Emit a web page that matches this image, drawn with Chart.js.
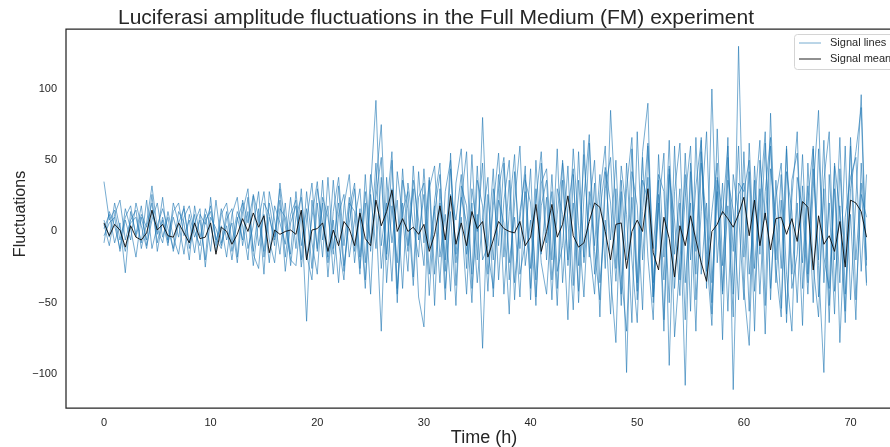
<!DOCTYPE html>
<html>
<head>
<meta charset="utf-8">
<script src="https://cdn.jsdelivr.net/npm/chart.js@4.4.1/dist/chart.umd.min.js"></script>
<style>
html, body { margin: 0; padding: 0; background: #fff; }
canvas { display: block; }
</style>
</head>
<body>
<canvas id="myChart" width="890" height="447"></canvas>
<script>
// one sample every half hour, 0 .. 71.5 h
const stepHours = 0.5;

const lineA = [
    35, 8, 15, -6, 10, 18, -4, 12, 3, 20, -8, 10,
    -6, 14, 20, -3, 8, -15, 12, 5, 18, -5, -12, 9,
    16, -18, 22, 6, 25, -10, 12, -22, 18, 6, -9, 24,
    -12, 30, -20, 10, 35, -6, 18, -30, 12, 26, -18, 8,
    30, -22, 40, 12, -70, 38, -8, 22, -40, 34, 4, -18,
    44, -12, 18, -36, 28, 50, -22, 10, -44, 30, 0, 48,
    -30, 18, 55, -18, 36, -48, 14, 40, -26, 22, 56, -8,
    28, -40, 50, 8, -55, 36, -18, 62, -30, 14, 45, 20,
    -35, 28, -99, 42, 18, -55, 60, -12, 36, -62, 40, 8,
    -45, 55, -20, 32, 64, -28, 14, 48, -42, 18, -60, 130,
    -18, 42, -70, 50, 8, 60, -36, 22, -58, 36, 55, -22,
    32, -50, 58, -18, -40, 46, -78, 10, 38, 52, -28, 40
];
const lineB = [
    5, -10, 12, 22, -6, 8, 15, -12, 6, 32, 2, -8,
    14, -4, -16, 10, 18, 0, -10, 16, 4, -14, 12, 20,
    -8, 14, 4, -20, 26, 10, -14, 20, -4, 30, -18, 12,
    22, -25, 8, 34, -14, 20, -32, 14, 38, -10, 24, -22,
    16, -34, 30, 92, -10, 20, -35, 42, 10, -28, 46, -6,
    26, -45, 14, 40, -20, 55, -38, 24, 6, -50, 36, 18,
    -42, 30, -10, 48, -34, 20, 60, -24, 8, -52, 34, 44,
    -20, 58, -36, 16, 44, -50, 24, 68, -14, -48, 30, 52,
    -26, 46, 12, -64, 70, -20, 38, -46, 16, 55, -94, 28,
    62, -36, 20, -70, 48, 8, -58, 72, -24, 36, 15, -48,
    56, -30, 18, 64, -52, 83, -20, 40, -64, 24, 70, -40,
    22, 60, -46, 30, -64, 48, 14, -56, 66, -20, 34, -38
];
const lineC = [
    2, 12, -8, 6, -29, 14, -2, 18, -10, 8, 20, -4,
    10, -14, 6, 16, -8, 12, -20, 8, 14, -6, 4, -18,
    12, 24, -10, 14, -24, 8, 28, -6, -22, 16, 10, -16,
    28, -10, 16, -26, 30, 6, -18, 36, -8, -34, 20, 14,
    -30, 40, -14, 24, 52, -36, 18, -22, 44, -10, 30, -46,
    -67, 30, 46, -18, 12, -42, 34, 58, -16, 20, -36, 10,
    38, -46, 22, 6, -58, 42, -12, 28, -40, 50, -16, 24,
    -48, 30, 12, -62, 40, -24, 54, -10, -44, 26, 60, -30,
    -78, 36, -20, 58, -48, 14, 62, -36, 20, -70, 44, -16,
    30, -62, 48, -14, 66, -40, 100, -22, 34, -56, 40, 12,
    -48, 62, -26, 30, -72, 44, 10, -54, 58, -30, 20, -66,
    48, -24, -60, 36, 70, -42, 18, -64, 30, 56, 87, -36
];
const lineD = [
    -3, 6, 10, -14, 8, -6, 20, 4, -12, 14, -2, 24,
    -8, 10, -4, 18, -12, 6, 16, -25, 10, 2, -10, 14,
    -14, 8, 20, -12, 4, 28, -18, 10, -6, 22, -28, 6,
    18, -20, 28, -8, -30, 24, 10, -16, 32, -24, 6, 30,
    -18, 28, -8, 48, -26, 14, 56, -40, 20, -14, 36, 8,
    -24, 38, -30, 20, -48, 26, 8, 40, -26, 54, -20, 80,
    -14, -40, 30, 52, -22, 10, -46, 36, 20, -34, 48, -20,
    40, -28, -10, 46, -38, 56, -22, 18, 50, -36, 8, -58,
    30, -52, 48, -20, -64, 36, 22, -46, 54, -18, 64, -40,
    20, -108, 42, -30, 56, -16, -66, 38, 12, 60, -44, 26,
    34, -56, 46, -16, 62, -40, 24, 48, -30, -70, 38, 16,
    -44, 30, 85, -36, 20, -58, 44, -22, 60, -48, 26, 10
];
const lineE = [
    -8, 14, 4, -12, 16, 2, -18, 10, -6, 26, -14, 8,
    -10, 20, 6, -16, 12, -4, 8, -20, 24, -10, 16, -6,
    6, -22, 14, 30, -16, -26, 20, 12, -10, 34, 4, -20,
    -24, 14, -63, 22, -12, 36, -22, 8, -36, 18, 40, -14,
    12, -40, 26, -12, 38, -20, 50, -44, 14, 28, -32, 42,
    -8, 36, -52, 30, -28, 44, -16, 22, 56, -40, 12, -82,
    26, -20, 40, -44, 14, 54, -30, -8, 44, -46, 18, 36,
    -34, 12, 48, -24, 20, -42, 64, -18, 34, -60, 42, -6,
    50, -30, -70, 24, -42, 56, 90, -50, 26, -34, 46, -74,
    -22, 40, -56, 66, -30, 20, -50, 36, -76, 52, -14, 60,
    -40, -80, 36, -44, 28, 66, -26, -60, 42, 14, -50, 32,
    -36, 58, -24, -99, 40, -20, 66, -44, 12, -62, 48, -20
];
const lineF = [
    8, -4, 20, 2, -14, 6, 10, -8, 22, -12, 4, 16,
    2, -12, 14, 6, -20, 18, -4, 12, -14, 22, -8, 4,
    -20, 10, -6, 24, -14, 16, -30, 28, 8, -16, 20, -24,
    10, 24, -16, -34, 20, -18, 38, -12, 20, -28, 16, 34,
    -26, 20, -44, 34, 75, -16, 30, -50, 36, 16, -38, 24,
    34, -30, 22, 48, -40, 14, -52, 32, 18, -30, 46, -20,
    -10, 44, -34, 22, 50, -36, 8, 46, -48, 30, -22, -44,
    16, -52, 36, -20, 58, 4, -46, 28, -10, 40, -26, 85,
    12, -44, 30, 66, -36, 52, -18, -62, 40, 28, -50, 60,
    -34, 24, 60, -48, 14, 70, -36, 28, -44, 66, -111, 34,
    28, 50, -42, 20, 70, -48, 36, -26, 60, -40, -16, 54,
    -30, 44, -20, 64, -52, 30, -36, 60, -48, 22, 96, -24
];
const signalMean = [
    6, -3, 5, 1, -11, 4, -4, -6, -1, 15, 1, 5,
    -3, -4, 6, -1, -8, 6, -5, -4, 6, -16, 3, 0,
    -9, -2, 9, 0, 13, 3, 11, -15, 1, -2, 0, 1,
    -2, 15, -20, 1, 2, 6, -14, 1, -10, 7, 2, -10,
    13, -5, -10, 22, 4, 14, 29, 0, 9, 0, 3, -2,
    5, -14, -2, 18, -6, 25, -9, 6, -10, 14, 2, 7,
    -18, -6, 7, 2, 0, -1, 7, -10, -4, 19, -14, 0,
    19, -4, 5, 25, -3, -11, -8, 7, 20, 17, 0, -20,
    5, 6, -26, 0, 8, 0, 30, -15, -27, 10, -5, -32,
    4, -10, 11, -6, -22, -35, 0, 5, 14, 9, 3, 12,
    24, -3, 22, -10, 13, -13, 9, 10, -2, 9, -7, 21,
    17, -27, 11, -9, -3, -14, 7, -25, 22, 20, 14, -4
];

const xTicks = [0, 10, 20, 30, 40, 50, 60, 70];
const yTicks = [-100, -50, 0, 50, 100];

const signalLines = [lineA, lineB, lineC, lineD, lineE, lineF];

const FONT = "'Liberation Sans', Arial, sans-serif";
const INK = '#262626';
const LINE_BLUE = 'rgba(31, 119, 180, 0.68)';
const MEAN_BLACK = 'rgba(10, 10, 10, 0.9)';

function toPoints(values) {
    return values.map(function (v, i) {
        return { x: i * stepHours, y: v };
    });
}

var datasets = [{
    label: 'Signal mean',
    data: toPoints(signalMean),
    borderColor: MEAN_BLACK,
    borderWidth: 1,
    order: 0
}];
signalLines.forEach(function (values) {
    datasets.push({
        label: 'Signal lines',
        data: toPoints(values),
        borderColor: LINE_BLUE,
        borderWidth: 0.9,
        order: 1
    });
});

// spines, title, axis labels and the matplotlib-like legend box
const decorations = {
    id: 'decorations',
    afterDraw: function (chart) {
        const c = chart.ctx;
        const a = chart.chartArea;
        c.save();

        c.strokeStyle = INK;
        c.lineWidth = 1.25;
        c.beginPath();
        c.moveTo(a.right + 2, a.top);
        c.lineTo(a.left, a.top);
        c.lineTo(a.left, a.bottom);
        c.lineTo(a.right + 2, a.bottom);
        c.stroke();

        c.fillStyle = INK;
        c.textAlign = 'center';
        c.textBaseline = 'alphabetic';
        c.font = '21px ' + FONT;
        c.fillText('Luciferasi amplitude fluctuations in the Full Medium (FM) experiment', 436, 24);
        c.font = '18px ' + FONT;
        c.fillText('Time (h)', 484, 443);

        c.save();
        c.translate(25, 214);
        c.rotate(-Math.PI / 2);
        c.font = '16px ' + FONT;
        c.fillText('Fluctuations', 0, 0);
        c.restore();

        // legend
        const lx = a.right - 96, ly = a.top + 5, lw = 120, lh = 35;
        c.fillStyle = 'rgba(255,255,255,0.8)';
        c.strokeStyle = '#d4d4d4';
        c.lineWidth = 1;
        c.beginPath();
        c.roundRect(lx + 0.5, ly + 0.5, lw, lh, 3);
        c.fill();
        c.stroke();

        const entries = [['Signal lines', LINE_BLUE, 0.9], ['Signal mean', MEAN_BLACK, 1]];
        c.font = '11px ' + FONT;
        c.textAlign = 'left';
        c.textBaseline = 'middle';
        entries.forEach(function (e, i) {
            const y = ly + 9 + i * 16;
            c.strokeStyle = e[1];
            c.lineWidth = e[2];
            c.beginPath();
            c.moveTo(lx + 5, y);
            c.lineTo(lx + 27, y);
            c.stroke();
            c.fillStyle = INK;
            c.fillText(e[0], lx + 36, y);
        });

        c.restore();
    }
};

const ctx = document.getElementById('myChart').getContext('2d');

new Chart(ctx, {
    type: 'line',
    data: { datasets: datasets },
    options: {
        responsive: false,
        animation: false,
        devicePixelRatio: 1,
        layout: { padding: { top: 29, left: 0, right: 0, bottom: 0 } },
        elements: {
            point: { radius: 0 },
            line: { tension: 0 }
        },
        plugins: {
            legend: { display: false },
            title: { display: false },
            tooltip: { enabled: false }
        },
        scales: {
            x: {
                type: 'linear',
                min: -3.56,
                max: 73.7,
                grid: { display: false, drawTicks: false },
                border: { display: false },
                afterBuildTicks: function (axis) {
                    axis.ticks = xTicks.map(function (v) { return { value: v }; });
                },
                afterFit: function (axis) { axis.height = 39; },
                ticks: {
                    padding: 8,
                    maxRotation: 0,
                    color: INK,
                    font: { family: FONT, size: 11 }
                }
            },
            y: {
                min: -123.9,
                max: 142.1,
                grid: { display: false, drawTicks: false },
                border: { display: false },
                afterBuildTicks: function (axis) {
                    axis.ticks = yTicks.map(function (v) { return { value: v }; });
                },
                afterFit: function (axis) { axis.width = 66; },
                ticks: {
                    padding: 9,
                    color: INK,
                    font: { family: FONT, size: 11 },
                    callback: function (v) { return String(v).replace('-', '\u2212'); }
                }
            }
        }
    },
    plugins: [decorations]
});
</script>
</body>
</html>
